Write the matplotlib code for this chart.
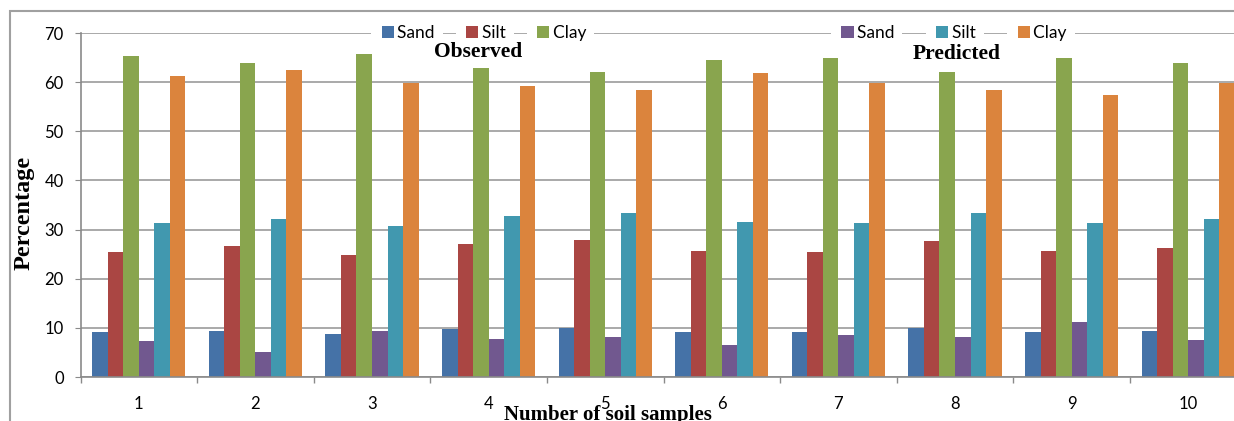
import matplotlib
matplotlib.use('Agg')
import numpy as np
import matplotlib.pyplot as plt
from matplotlib.patches import Rectangle
from matplotlib.legend_handler import HandlerBase

# data (percent)
samples = ['1', '2', '3', '4', '5', '6', '7', '8', '9', '10']
sand_obs = [9.1, 9.3, 8.8, 9.7, 9.9, 9.1, 9.1, 9.9, 9.1, 9.3]
silt_obs = [25.4, 26.7, 24.9, 27.0, 27.8, 25.7, 25.4, 27.7, 25.7, 26.3]
clay_obs = [65.3, 63.8, 65.8, 62.9, 62.0, 64.6, 65.0, 62.0, 65.0, 63.8]
sand_pred = [7.3, 5.0, 9.3, 7.8, 8.2, 6.5, 8.6, 8.2, 11.2, 7.6]
silt_pred = [31.3, 32.2, 30.8, 32.8, 33.4, 31.6, 31.3, 33.3, 31.3, 32.1]
clay_pred = [61.2, 62.4, 59.9, 59.2, 58.3, 61.8, 59.9, 58.3, 57.4, 59.9]

series = [sand_obs, silt_obs, clay_obs, sand_pred, silt_pred, clay_pred]
labels = ['Sand', 'Silt', 'Clay', 'Sand', 'Silt', 'Clay']
colors = ['#4572A7', '#AA4643', '#89A54E', '#71588F', '#4198AF', '#DB843D']

sans = 'Lato'
serif = 'Liberation Serif'
grey = '#8a8a8a'


class BoxHandler(HandlerBase):
    # coloured square with a white margin on its left, so the gridline breaks
    def create_artists(self, legend, orig_handle, xdescent, ydescent,
                       width, height, fontsize, trans):
        bg = Rectangle((-xdescent, -ydescent - 0.35 * fontsize), width,
                       height + 0.7 * fontsize, fc='white', ec='none',
                       transform=trans)
        sq = Rectangle((-xdescent + width - height, -ydescent), height, height,
                       fc=orig_handle.get_facecolor(), ec='none',
                       transform=trans)
        return [bg, sq]


fig = plt.figure(figsize=(12.34, 4.21), dpi=100)
W, H = 1234.0, 421.0
ax = fig.add_axes([80.5 / W, 44 / H, 1166 / W, 344 / H])

x = np.arange(len(samples))
w = 0.8 / 6
handles = []
for j, vals in enumerate(series):
    b = ax.bar(x + (j - 2.5) * w, vals, w, color=colors[j], label=labels[j],
               zorder=2, linewidth=0)
    handles.append(b.patches[0])

ax.set_xlim(-0.5, len(samples) - 0.5)
ax.set_ylim(0, 70)
ax.set_yticks(range(0, 71, 10))
ax.set_xticks(x)
ax.set_xticklabels(samples)
ax.set_xticks(np.arange(len(samples) + 1) - 0.5, minor=True)

ax.set_axisbelow(True)
ax.yaxis.grid(True, color='#a3a3a3', lw=1.3)
for s in ['top', 'right']:
    ax.spines[s].set_visible(False)
for s in ['left', 'bottom']:
    ax.spines[s].set_color(grey)
    ax.spines[s].set_linewidth(1.2)

ax.tick_params(axis='y', length=4, color=grey, pad=8, labelsize=12)
ax.tick_params(axis='x', which='major', length=0, pad=14, labelsize=12)
ax.tick_params(axis='x', which='minor', length=4, color=grey, width=1)
for t in ax.get_xticklabels() + ax.get_yticklabels():
    t.set_family(sans)
    t.set_color('black')

# two legends sitting on the 70 gridline
leg_specs = [(handles[0:3], labels[0:3], 0.3435, 0.95),
             (handles[3:6], labels[3:6], 0.7466, 1.55)]
for hs, ls, xc, cs in leg_specs:
    leg = ax.legend(hs, [l + ' ' for l in ls], loc='center',
                    bbox_to_anchor=(xc, 1.0), ncol=3, frameon=False,
                    borderpad=0, handlelength=1.3, handletextpad=0.2,
                    columnspacing=cs, prop={'family': sans, 'size': 12.5},
                    handler_map={h: BoxHandler() for h in hs})
    for t in leg.get_texts():
        t.set_bbox(dict(boxstyle='square,pad=0.2', fc='white', ec='none'))
        t.set_color('black')
    ax.add_artist(leg)

fig.text(478 / W, 1 - 52 / H, 'Observed', ha='center', va='center',
         family=serif, weight='bold', size=15.5)
fig.text(957 / W, 1 - 54 / H, 'Predicted', ha='center', va='center',
         family=serif, weight='bold', size=15.5)
fig.text(24 / W, 1 - 213 / H, 'Percentage', rotation=90, ha='center',
         va='center', family=serif, weight='bold', size=17.5)
fig.text(608 / W, 1 - 420 / H, 'Number of soil samples', ha='center',
         va='baseline', family=serif, weight='bold', size=15)

# outer chart frame, only its top and left edges fall inside the image
fig.add_artist(Rectangle((9.5 / W, -1), 2, 1 + (H - 10.5) / H,
                         transform=fig.transFigure, fill=False,
                         ec='#a0a0a0', lw=1.5))

fig.savefig('out.png', dpi=100)
